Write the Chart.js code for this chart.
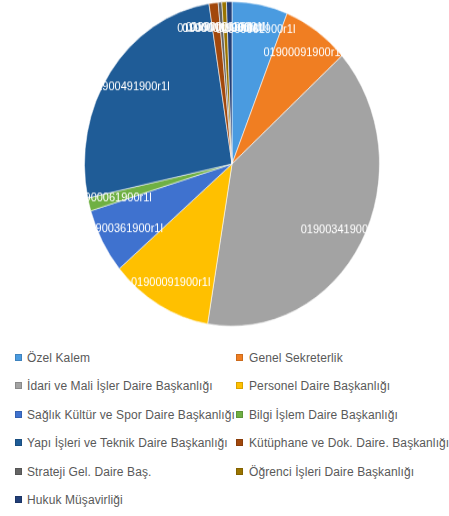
<!DOCTYPE html>
<html>
<head>
<meta charset="utf-8">
<script src="https://cdn.jsdelivr.net/npm/chart.js@4"></script>
<style>
  body { margin: 0; background: #fff; width: 449px; height: 516px; overflow: hidden; position: relative; }
  /* pie in the original is slightly taller than wide */
  #wrap { position: absolute; left: 0; top: 0; width: 449px; height: 300px; transform: scaleY(1.1); transform-origin: 0 0; }
  #legend { position: absolute; left: 0; top: 344px; width: 449px; font-family: "Liberation Sans", Arial, sans-serif; font-size: 12px; color: #595959; }
  .item { position: absolute; height: 28px; line-height: 28px; white-space: nowrap; letter-spacing: 0.1px; }
  .box { position: absolute; top: 10px; width: 7px; height: 7px; }
</style>
</head>
<body>
<div id="wrap"><canvas id="birim-pie"></canvas></div>
<div id="legend"></div>
<script>
const units = [
  "Özel Kalem",
  "Genel Sekreterlik",
  "İdari ve Mali İşler Daire Başkanlığı",
  "Personel Daire Başkanlığı",
  "Sağlık Kültür ve Spor Daire Başkanlığı",
  "Bilgi İşlem Daire Başkanlığı",
  "Yapı İşleri ve Teknik Daire Başkanlığı",
  "Kütüphane ve Dok. Daire. Başkanlığı",
  "Strateji Gel. Daire Baş.",
  "Öğrenci İşleri Daire Başkanlığı",
  "Hukuk Müşavirliği",
];
const shares = [6.1, 7.3, 39.3, 11.2, 6.5, 1.3, 25.9, 1.0, 0.4, 0.5, 0.6];
const sliceTexts = [
  "01900061900r1l",
  "01900091900r1l",
  "01900341900r1l",
  "01900091900r1l",
  "01900361900r1l",
  "01900061900r1l",
  "01900491900r1l",
  "01900011900r1l",
  "01900001900r1l",
  "01900001900r1l",
  "01900011900r1l",
];
const colors = [
  "#4a9be0", "#f07e22", "#a3a3a3", "#ffc000", "#3f72cf", "#6fb043",
  "#1f5c97", "#a2480c", "#646464", "#9a7400", "#223f78",
];

// white labels inside the slice, near the outer edge
const sliceLabels = {
  id: "sliceLabels",
  afterDatasetsDraw(chart) {
    const ctx = chart.ctx;
    const arcs = chart.getDatasetMeta(0).data;
    ctx.save();
    ctx.font = "11px 'Liberation Sans', Arial, sans-serif";
    ctx.fillStyle = "#ffffff";
    ctx.textAlign = "center";
    ctx.textBaseline = "middle";
    arcs.forEach((arc, i) => {
      const p = arc.getProps(["x", "y", "startAngle", "endAngle", "outerRadius"], true);
      const mid = (p.startAngle + p.endAngle) / 2;
      const r = p.outerRadius * 0.84;
      ctx.fillText(sliceTexts[i], p.x + Math.cos(mid) * r, p.y + Math.sin(mid) * r);
    });
    ctx.restore();
  },
};

new Chart(document.getElementById("birim-pie"), {
  type: "pie",
  data: {
    labels: units,
    datasets: [
      {
        data: shares,
        backgroundColor: colors,
        borderColor: "rgba(255,255,255,0.55)",
        borderWidth: 1,
      },
    ],
  },
  options: {
    responsive: true,
    maintainAspectRatio: false,
    animation: false,
    layout: { padding: { top: 1, bottom: 3, left: 15, right: 0 } },
    plugins: {
      legend: { display: false },
      tooltip: { enabled: false },
    },
  },
  plugins: [sliceLabels],
});

// two-column legend below the pie
const legend = document.getElementById("legend");
units.forEach((name, i) => {
  const col = i % 2;
  const row = Math.floor(i / 2);
  const item = document.createElement("div");
  item.className = "item";
  item.style.left = (col ? 236 : 15) + "px";
  item.style.top = row * 28.4 + "px";
  item.style.paddingLeft = (col ? 13 : 12) + "px";
  const box = document.createElement("span");
  box.className = "box";
  box.style.left = "0px";
  box.style.background = colors[i];
  box.style.boxShadow = "inset 0 0 0 1px rgba(0,0,0,0.15)";
  item.appendChild(box);
  item.appendChild(document.createTextNode(name));
  legend.appendChild(item);
});
</script>
</body>
</html>
